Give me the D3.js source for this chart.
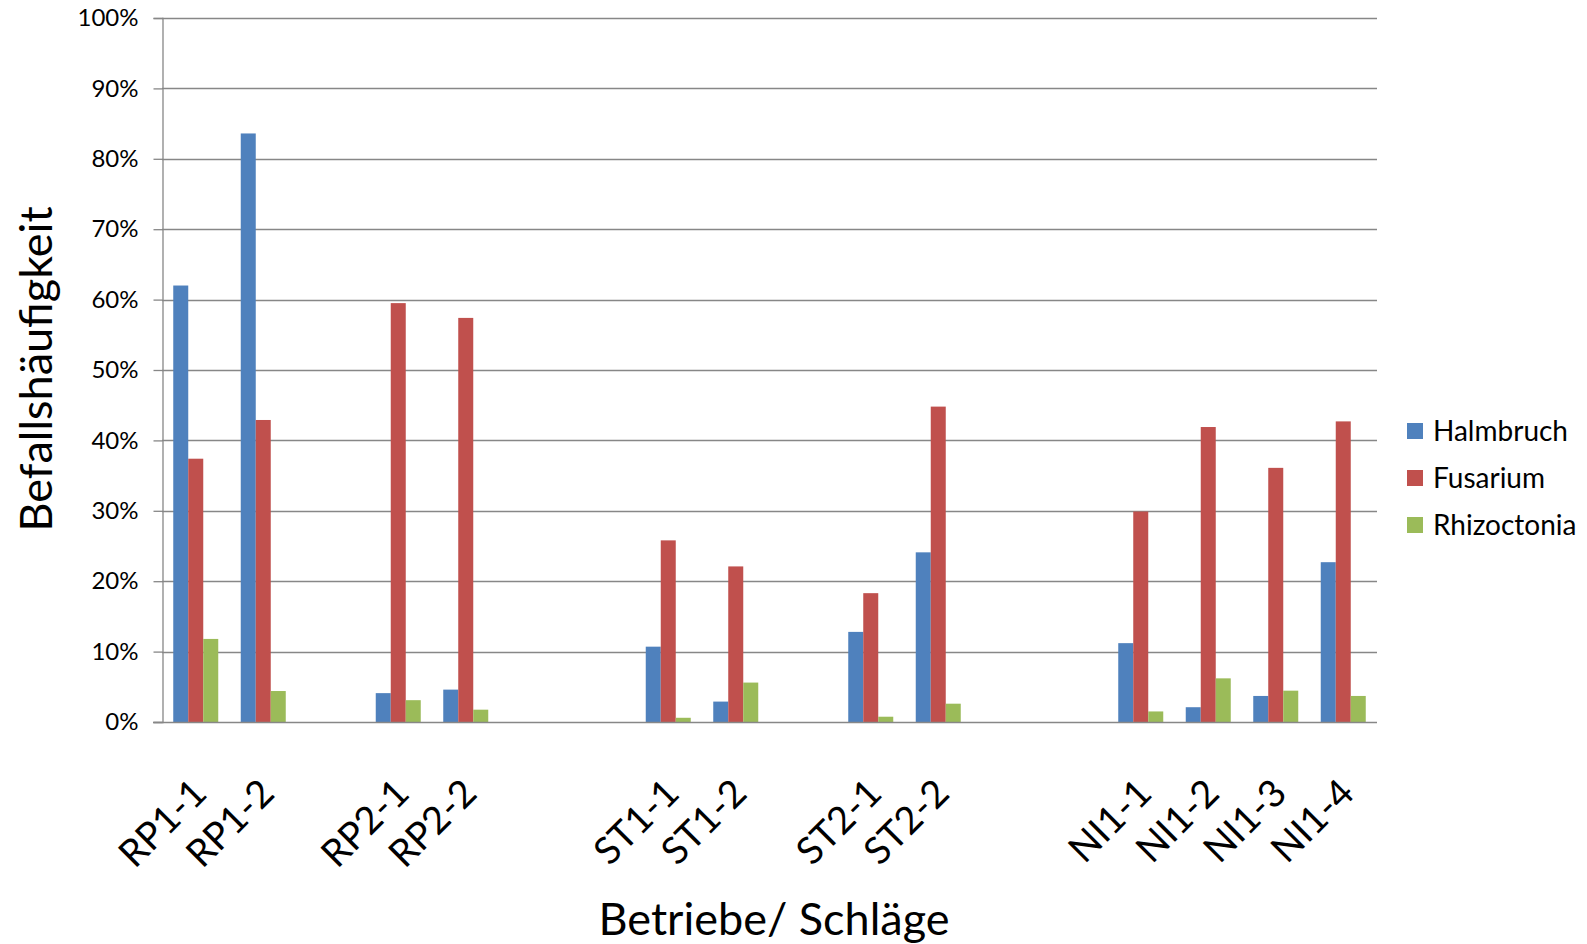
<!DOCTYPE html>
<html><head><meta charset="utf-8">
<script src="https://cdn.jsdelivr.net/npm/d3@7"></script>
<style>
html,body{margin:0;padding:0;background:#fff;}
text{font-family:Lato,"Open Sans",sans-serif;fill:#000;}
</style></head>
<body>
<svg id="chart" width="1587" height="944"></svg>
<script>
const categories = ["RP1-1","RP1-2","","RP2-1","RP2-2","","","ST1-1","ST1-2","","ST2-1","ST2-2","","","NI1-1","NI1-2","NI1-3","NI1-4"];
const halmbruch  = [62.0, 83.6, null, 4.1, 4.6, null, null, 10.7, 2.9, null, 12.8, 24.1, null, null, 11.2, 2.1, 3.7, 22.7];
const fusarium   = [37.4, 42.9, null, 59.5, 57.4, null, null, 25.8, 22.1, null, 18.3, 44.8, null, null, 29.9, 41.9, 36.1, 42.7];
const rhizoctonia= [11.8, 4.4, null, 3.1, 1.75, null, null, 0.6, 5.6, null, 0.75, 2.6, null, null, 1.5, 6.2, 4.45, 3.7];
const seriesNames = ["Halmbruch","Fusarium","Rhizoctonia"];
const seriesColors = ["#4F81BD","#C0504D","#9BBB59"];
const yTicks = [0,10,20,30,40,50,60,70,80,90,100];
const yTitle = "Befallshäufigkeit";
const xTitle = "Betriebe/ Schläge";

const series = [halmbruch, fusarium, rhizoctonia];
const svg = d3.select("#chart");
const L = 162, R = 1377, T = 18, B = 722;

const x = d3.scaleBand().domain(d3.range(categories.length)).range([L, R]).padding(0);
const xs = d3.scaleBand().domain(seriesNames).range([0, x.bandwidth()]).paddingInner(0).paddingOuter(0.75);
const y = d3.scaleLinear().domain([0, 100]).range([B, T]);

// gridlines
svg.append("g").selectAll("line").data(yTicks.filter(d => d > 0)).join("line")
  .attr("x1", L).attr("x2", R).attr("y1", d => Math.round(y(d)) + 0.5).attr("y2", d => Math.round(y(d)) + 0.5)
  .attr("stroke", "#878787").attr("stroke-width", 1.3);

// y axis
const yAxis = d3.axisLeft(y).tickValues(yTicks).tickFormat(d => d + "%").tickSize(9).tickPadding(15);
const gy = svg.append("g").attr("transform", `translate(${L + 0.5},0)`).call(yAxis);
gy.select(".domain").attr("stroke", "#878787").attr("stroke-width", 1.3);
gy.selectAll(".tick line").attr("stroke", "#878787").attr("stroke-width", 1.3);
gy.selectAll(".tick text").attr("font-size", 24).attr("font-family", "Lato").attr("fill", "#000");

// bars
series.forEach((vals, si) => {
  svg.append("g").selectAll("rect").data(vals.map((v, i) => ({v, i})).filter(d => d.v != null)).join("rect")
    .attr("x", d => x(d.i) + xs(seriesNames[si]))
    .attr("width", xs.bandwidth())
    .attr("y", d => y(d.v))
    .attr("height", d => y(0) - y(d.v))
    .attr("fill", seriesColors[si]);
});

// x axis
const xAxis = d3.axisBottom(x).tickFormat(i => categories[i]).tickSize(0).tickPadding(0);
const gx = svg.append("g").attr("transform", `translate(0,${B + 0.5})`).call(xAxis);
gx.select(".domain").attr("stroke", "#878787").attr("stroke-width", 1.3).attr("d", `M${L - 9},0H${R}`);
gx.selectAll(".tick text")
  .attr("font-size", 38).attr("font-family", "Lato").attr("fill", "#000")
  .attr("text-anchor", "end")
  .attr("dy", 0).attr("y", 0)
  .attr("transform", "translate(13,73) rotate(-45)");

// axis titles
svg.append("text").attr("transform", `translate(52,${(208 + 530) / 2}) rotate(-90)`)
  .attr("text-anchor", "middle").attr("font-size", 45).text(yTitle);
svg.append("text").attr("x", 774).attr("y", 935)
  .attr("text-anchor", "middle").attr("font-size", 45).text(xTitle);

// legend
const lg = svg.append("g");
seriesNames.forEach((n, i) => {
  const cy = 431 + i * 47;
  lg.append("rect").attr("x", 1407).attr("y", cy - 8).attr("width", 16).attr("height", 16).attr("fill", seriesColors[i]);
  lg.append("text").attr("x", 1433).attr("y", cy).attr("dy", "0.35em").attr("font-size", 28).text(n);
});
</script>
</body></html>
